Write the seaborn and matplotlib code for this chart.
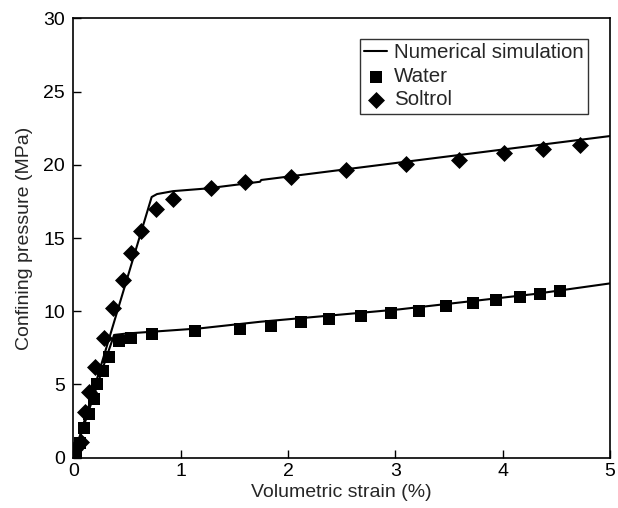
import matplotlib
matplotlib.use("Agg")
import matplotlib.pyplot as plt
import seaborn as sns
import pandas as pd

sns.set_theme(style="white")
plt.rcParams["font.family"] = ["Liberation Sans", "DejaVu Sans"]

# Measured data: volumetric strain (%) vs confining pressure (MPa)
water_strain = [0.025, 0.06, 0.10, 0.15, 0.19, 0.22, 0.28, 0.33, 0.43, 0.54, 0.73,
                1.13, 1.55, 1.84, 2.12, 2.38, 2.68, 2.96, 3.22, 3.47, 3.72, 3.94,
                4.16, 4.35, 4.53]
water_pressure = [0.25, 1.0, 2.03, 2.98, 4.0, 5.03, 5.94, 6.85, 7.97, 8.19, 8.42,
                  8.67, 8.76, 8.99, 9.28, 9.49, 9.67, 9.86, 10.03, 10.38, 10.54, 10.76,
                  10.99, 11.15, 11.4]

soltrol_strain = [0.02, 0.07, 0.11, 0.15, 0.20, 0.29, 0.37, 0.46, 0.54, 0.63, 0.77,
                  0.93, 1.28, 1.60, 2.03, 2.54, 3.10, 3.59, 4.01, 4.38, 4.72]
soltrol_pressure = [0.57, 1.09, 3.14, 4.5, 6.21, 8.15, 10.2, 12.13, 13.95, 15.47, 16.96,
                    17.66, 18.39, 18.84, 19.18, 19.64, 20.05, 20.32, 20.78, 21.05, 21.35]

# Numerical simulation curves
sim_water_strain = [0.0, 0.31, 0.38, 0.50, 1.18, 1.74, 3.04, 4.29, 5.0]
sim_water_pressure = [0.0, 6.89, 8.38, 8.48, 8.83, 9.28, 10.13, 11.17, 11.9]

sim_soltrol_strain = [0.0, 0.73, 0.78, 0.93, 1.24, 1.74, 1.75, 3.10, 5.0]
sim_soltrol_pressure = [0.0, 17.8, 18.0, 18.2, 18.38, 18.84, 18.96, 20.21, 21.96]

fig = plt.figure(figsize=(6.18, 5.08), dpi=100)
ax = fig.add_axes([73.3 / 618, 1 - 457.7 / 508, (610 - 73.3) / 618, (457.7 - 18.3) / 508])

sim_w = pd.DataFrame({"x": sim_water_strain, "y": sim_water_pressure})
sim_s = pd.DataFrame({"x": sim_soltrol_strain, "y": sim_soltrol_pressure})
sns.lineplot(data=sim_w, x="x", y="y", ax=ax, color="black", linewidth=1.5,
             sort=False, estimator=None, label="Numerical simulation")
sns.lineplot(data=sim_s, x="x", y="y", ax=ax, color="black", linewidth=1.5,
             sort=False, estimator=None, label="_nolegend_")

wdf = pd.DataFrame({"x": water_strain, "y": water_pressure})
sdf = pd.DataFrame({"x": soltrol_strain, "y": soltrol_pressure})
sns.scatterplot(data=wdf, x="x", y="y", ax=ax, marker="s", s=85, color="black",
                edgecolor="black", linewidth=0, label="Water", zorder=3)
sns.scatterplot(data=sdf, x="x", y="y", ax=ax, marker="D", s=75, color="black",
                edgecolor="black", linewidth=0, label="Soltrol", zorder=3)

ax.set_xlim(0, 5)
ax.set_ylim(0, 30)
ax.set_xticks([0, 1, 2, 3, 4, 5])
ax.set_yticks([0, 5, 10, 15, 20, 25, 30])
ax.set_xlabel("Volumetric strain (%)", fontsize=14, labelpad=3)
ax.set_ylabel("Confining pressure (MPa)", fontsize=14, labelpad=7)
ax.tick_params(axis="both", which="major", direction="in", length=6, width=1,
               labelsize=14, colors="black", top=False, right=False,
               bottom=True, left=True)
ax.tick_params(axis="y", pad=6)
ax.tick_params(axis="x", pad=4)
for sp in ax.spines.values():
    sp.set_color("black")
    sp.set_linewidth(1.2)

leg = ax.legend(loc="upper right", bbox_to_anchor=(1 - 22 / 536.7, 1 - 21 / 439.4),
                borderaxespad=0, fontsize=14.8, frameon=True, fancybox=False,
                handlelength=1.1, handletextpad=0.35, labelspacing=0.22,
                borderpad=0.2, edgecolor="black", markerscale=1.0)
leg.get_frame().set_linewidth(1.0)

fig.savefig("out.png", dpi=100)
